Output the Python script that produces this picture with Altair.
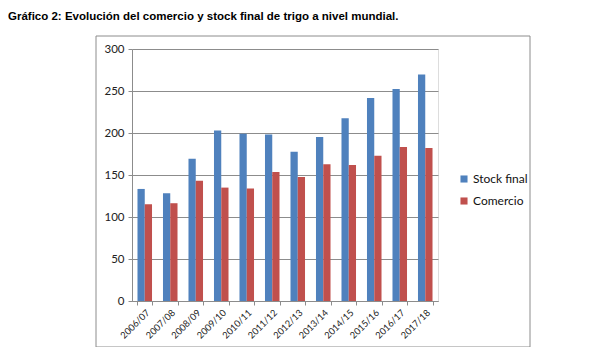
import altair as alt
import pandas as pd

campaigns = ["2006/07", "2007/08", "2008/09", "2009/10", "2010/11", "2011/12",
             "2012/13", "2013/14", "2014/15", "2015/16", "2016/17", "2017/18"]
stock_final = [133.4, 128.2, 169.4, 203.0, 199.0, 198.3, 177.7, 195.1, 217.7, 241.8, 252.5, 269.5]
comercio = [115.2, 116.4, 143.3, 135.0, 133.8, 153.6, 147.6, 162.7, 161.9, 173.0, 183.2, 182.0]
series_names = ["Stock final", "Comercio"]
series_colors = ["#4F81BD", "#C0504D"]
title_text = "Gráfico 2: Evolución del comercio y stock final de trigo a nivel mundial."

rows = []
for c, s, m in zip(campaigns, stock_final, comercio):
    rows.append({"Campaña": c, "Serie": series_names[0], "Valor": s})
    rows.append({"Campaña": c, "Serie": series_names[1], "Valor": m})
df = pd.DataFrame(rows)

W, H = 306, 252

bars = alt.Chart(df).mark_bar().encode(
    x=alt.X("Campaña:N", sort=campaigns, title=None,
            scale=alt.Scale(paddingInner=0.43, paddingOuter=0.215),
            axis=alt.Axis(labelAngle=-45, labelFont="Lato", labelFontSize=9.3,
                          labelColor="#222222", domainColor="#8c8c8c",
                          tickColor="#8c8c8c", tickSize=4, tickBand="extent",
                          labelAlign="right", labelBaseline="top",
                          labelPadding=3, grid=False)),
    xOffset=alt.XOffset("Serie:N", sort=series_names),
    y=alt.Y("Valor:Q", title=None,
            scale=alt.Scale(domain=[0, 300], nice=False),
            axis=alt.Axis(values=[0, 50, 100, 150, 200, 250, 300],
                          labelFont="Lato", labelFontSize=11.5, labelColor="#222222",
                          domainColor="#8c8c8c", tickColor="#8c8c8c", tickSize=4,
                          gridColor="#8c8c8c", gridWidth=1, labelPadding=4)),
    color=alt.Color("Serie:N", sort=series_names,
                    scale=alt.Scale(domain=series_names, range=series_colors),
                    legend=alt.Legend(title=None, orient="none", legendX=326, legendY=124,
                                      symbolType="square", symbolSize=50,
                                      symbolStrokeWidth=0, labelFont="Lato",
                                      labelFontSize=12, labelColor="#111111",
                                      rowPadding=10, labelOffset=3, padding=0)),
)

frame = alt.Chart(pd.DataFrame({"a": [0]})).mark_rect(
    fill=None, stroke="#8c8c8c", strokeWidth=1, clip=False
).encode(
    x=alt.value(-36), x2=alt.value(398), y=alt.value(-13), y2=alt.value(298)
)

title = alt.Chart(pd.DataFrame({"t": [title_text]})).mark_text(
    align="left", baseline="alphabetic", font="Liberation Sans", fontSize=11.5,
    fontWeight="bold", color="#000000", clip=False
).encode(
    text="t:N", x=alt.value(-124), y=alt.value(-29)
)

chart = alt.layer(frame, bars, title).properties(
    width=W, height=H,
    autosize=alt.AutoSizeParams(type="none"),
    padding={"left": 124, "top": 41, "right": 150, "bottom": 46},
).configure_view(stroke=None).configure(background="white")

chart.save("out.html", embed_options={"renderer": "svg", "actions": False})
